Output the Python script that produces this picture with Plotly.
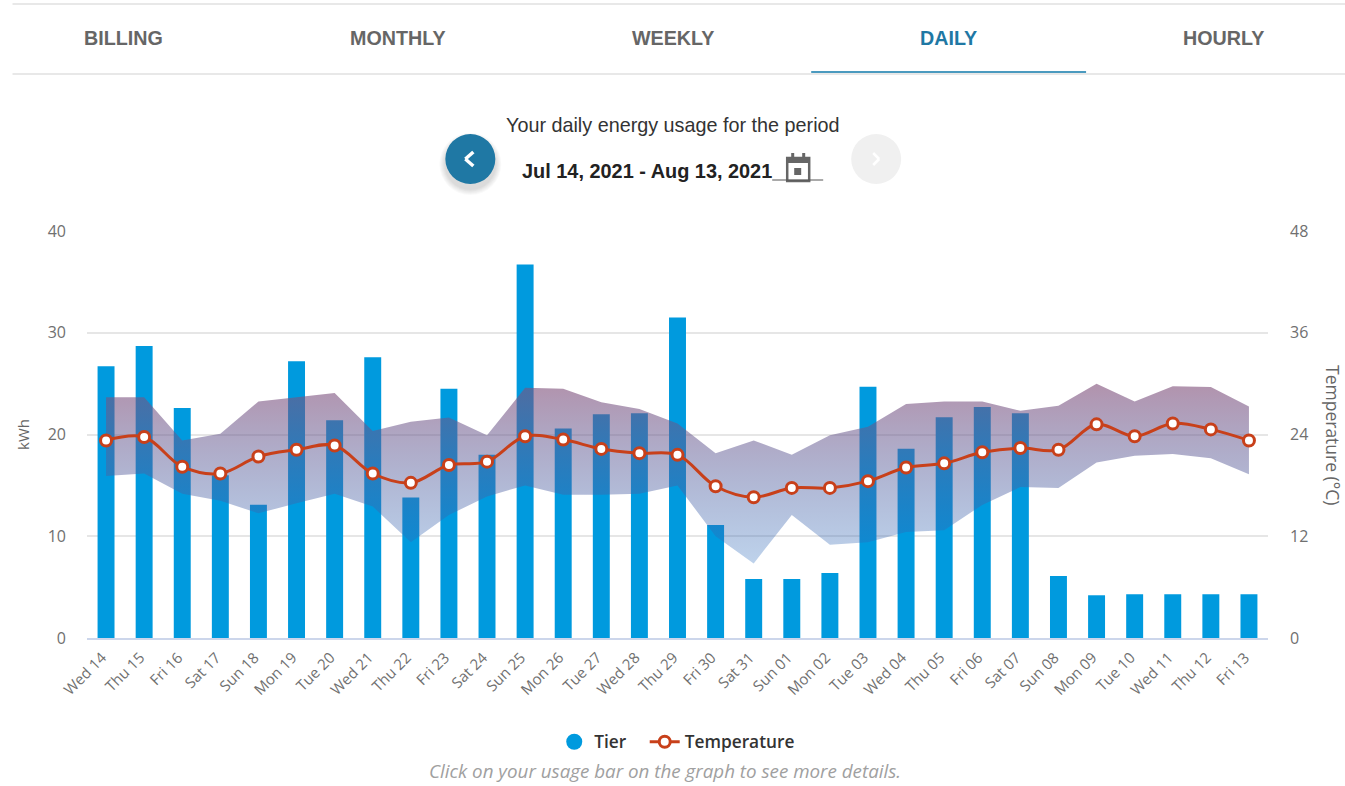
import plotly.graph_objects as go

days = ["Wed 14","Thu 15","Fri 16","Sat 17","Sun 18","Mon 19","Tue 20","Wed 21","Thu 22","Fri 23","Sat 24",
        "Sun 25","Mon 26","Tue 27","Wed 28","Thu 29","Fri 30","Sat 31","Sun 01","Mon 02","Tue 03","Wed 04",
        "Thu 05","Fri 06","Sat 07","Sun 08","Mon 09","Tue 10","Wed 11","Thu 12","Fri 13"]
usage_kwh = [26.7,28.7,22.6,16.0,13.1,27.2,21.4,27.6,13.8,24.5,18.0,36.7,20.6,22.0,22.1,31.5,11.1,5.8,5.8,6.4,
             24.7,18.6,21.7,22.7,22.1,6.1,4.2,4.3,4.3,4.3,4.3]
temperature = [23.3,23.7,20.2,19.4,21.4,22.2,22.7,19.4,18.3,20.4,20.8,23.8,23.4,22.3,21.8,21.6,17.9,16.6,17.7,17.7,
               18.5,20.1,20.6,21.9,22.4,22.2,25.2,23.8,25.3,24.6,23.3]
temp_high = [28.4,28.4,23.3,24.1,27.9,28.4,28.9,24.4,25.5,26.0,23.9,29.5,29.4,27.8,27.0,25.3,21.8,23.3,21.6,23.9,
             24.9,27.6,27.9,27.9,26.8,27.4,30.0,27.9,29.7,29.6,27.3]
temp_low = [19.1,19.4,17.0,16.2,14.7,15.9,17.0,15.5,11.3,14.5,16.7,18.0,16.9,16.9,17.0,18.0,12.0,8.8,14.5,11.0,
            11.3,12.5,12.7,15.7,17.8,17.7,20.7,21.5,21.7,21.2,19.3]
tabs = ["BILLING","MONTHLY","WEEKLY","DAILY","HOURLY"]

L, R, T, B = 86.5, 1268, 231, 638
px = lambda x: (x - L) / (R - L)
py = lambda y: (B - y) / (B - T)

fig = go.Figure()
fig.add_bar(x=days, y=usage_kwh, name="Tier", marker=dict(color="#009ADE", line_width=0), width=0.445,
            showlegend=False, yaxis="y")
fig.add_scatter(x=days, y=temp_low, mode="lines", line=dict(width=0), showlegend=False, yaxis="y2", hoverinfo="skip")
fig.add_scatter(x=days, y=temp_high, mode="lines", line=dict(width=0), showlegend=False, yaxis="y2", hoverinfo="skip",
                fill="tonexty",
                fillgradient=dict(type="vertical",
                                  colorscale=[[0, "rgba(38,105,188,0.30)"], [1, "rgba(130,80,122,0.62)"]]))
fig.add_scatter(x=[None], y=[None], mode="markers", name="Tier\u00a0\u00a0\u00a0", marker=dict(color="#009ADE", size=16), yaxis="y")
fig.add_scatter(x=days, y=temperature, mode="lines+markers", name="Temperature", yaxis="y2",
                line=dict(color="#C8401A", width=3, shape="spline", smoothing=1.0),
                marker=dict(color="white", size=11, line=dict(color="#C8401A", width=3)))

shapes = []
def line(x0, y0, x1, y1, color, w):
    shapes.append(dict(type="line", xref="paper", yref="paper", x0=px(x0), x1=px(x1), y0=py(y0), y1=py(y1),
                       line=dict(color=color, width=w)))
def circle(cx, cy, r, color):
    shapes.append(dict(type="circle", xref="paper", yref="paper", x0=px(cx-r), x1=px(cx+r), y0=py(cy-r), y1=py(cy+r),
                       fillcolor=color, line_width=0))
def rect(x0, y0, x1, y1, color, lc=None, lw=0):
    shapes.append(dict(type="rect", xref="paper", yref="paper", x0=px(x0), x1=px(x1), y0=py(y0), y1=py(y1),
                       fillcolor=color, line=dict(width=lw, color=lc or color)))

line(12, 4, 1345, 4, "#E8E8E8", 2)
line(12, 74, 1345, 74, "#E8E8E8", 2)
line(811, 72, 1086, 72, "#4B9ABF", 2)
for i in range(6, 0, -1):
    circle(470, 159 + 5, 25 + i, "rgba(0,0,0,0.025)")
circle(470, 159, 25, "#1F78A4")
circle(876, 159, 25, "#F0F0F0")
line(473, 152, 465, 159, "white", 3.5)
line(465, 159, 473, 166, "white", 3.5)
line(873, 153, 879, 159, "white", 2.5)
line(879, 159, 873, 165, "white", 2.5)
# calendar icon
rect(787, 158, 809, 181, "white", "#666666", 2.5)
rect(787, 157, 809, 163, "#666666")
rect(791, 153, 794, 158, "#666666")
rect(802, 153, 805, 158, "#666666")
rect(794, 168, 801, 175, "#666666")
line(772, 180, 823, 180, "#555555", 1)

annotations = []
def text(s, x, y, size, color, family="Liberation Sans", angle=0):
    annotations.append(dict(text=s, xref="paper", yref="paper", x=px(x), y=py(y), xanchor="center", yanchor="middle",
                            showarrow=False, textangle=angle, font=dict(size=size, color=color, family=family)))
for name, cx in zip(tabs, [123, 398, 673, 948, 1223]):
    text(f"<b>{name}</b>", cx, 38, 19.7, "#1F78A4" if name == "DAILY" else "#666666")
text("Your daily energy usage for the period", 673, 125, 19.8, "#333333")
text("<b>Jul 14, 2021 - Aug 13, 2021</b>", 647, 171, 19.9, "#222222")
text("<i>Click on your usage bar on the graph to see more details.</i>", 665, 771, 18.8, "#A0A0A0", "Open Sans")
text("Temperature (°C)", 1333, 435, 17.5, "#666666", "Open Sans", 90)

fig.update_layout(
    width=1345, height=786, margin=dict(l=L, r=1345-R, t=T, b=786-B, autoexpand=False),
    paper_bgcolor="white", plot_bgcolor="white",
    font=dict(family="Open Sans", color="#666666", size=14),
    shapes=shapes, annotations=annotations,
    hovermode=False,
    legend=dict(orientation="h", x=px(677), xanchor="center", y=py(742), yanchor="middle",
                font=dict(size=17.3, color="#333333", family="Open Sans", weight=600),
                itemsizing="trace", traceorder="normal", bgcolor="rgba(0,0,0,0)"),
    xaxis=dict(type="category", categoryorder="array", categoryarray=days, range=[-0.5, 30.5],
               tickangle=-45, tickfont=dict(size=15, color="#707070"), ticks="", showgrid=False,
               ticklabelshift=-4, ticklabelstandoff=3,
               showline=True, linecolor="#CCD6EB", linewidth=2, zeroline=False),
    yaxis=dict(range=[0, 40], tick0=0, dtick=10, gridcolor="#E6E6E6", gridwidth=1.5, zeroline=False, showline=False,
               tickfont=dict(size=16, color="#707070"), ticklabelstandoff=20,
               title=dict(text="kWh", font=dict(size=15, color="#666666"), standoff=14)),
    yaxis2=dict(range=[0, 48], tick0=0, dtick=12, overlaying="y", side="right", showgrid=False, zeroline=False,
                showline=False, tickfont=dict(size=16, color="#707070"), ticklabelstandoff=21),
)
fig.write_html("out.html", config=dict(displayModeBar=False),
               post_script="document.body.style.margin='0';document.body.style.overflow='hidden';")
